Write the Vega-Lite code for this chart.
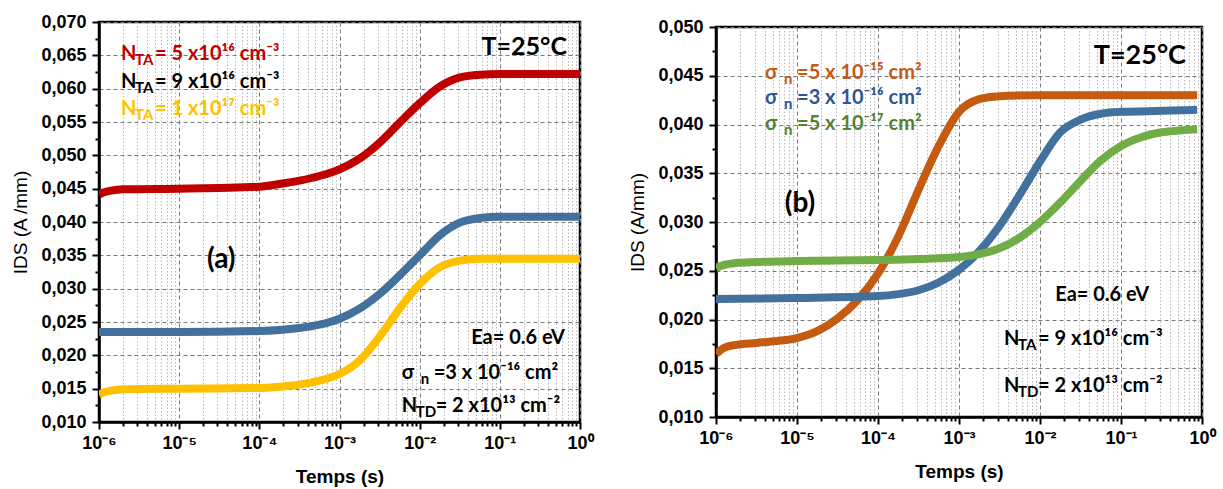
{
  "$schema": "https://vega.github.io/schema/vega-lite/v6.json",
  "background": "white",
  "padding": {"left": 10, "top": 11, "right": 5, "bottom": 5},
  "config": {
    "view": {"stroke": "black", "strokeWidth": 2.5, "fill": "white"}
  },
  "datasets": {
    "curves": [
      {"panel": "a", "series": "a1", "t": 1e-6, "I": 0.0441},
      {"panel": "a", "series": "a1", "t": 1.122e-6, "I": 0.0444},
      {"panel": "a", "series": "a1", "t": 1.413e-6, "I": 0.0447},
      {"panel": "a", "series": "a1", "t": 1.995e-6, "I": 0.0449},
      {"panel": "a", "series": "a1", "t": 1e-5, "I": 0.0450},
      {"panel": "a", "series": "a1", "t": 3.162e-5, "I": 0.0451},
      {"panel": "a", "series": "a1", "t": 1e-4, "I": 0.0453},
      {"panel": "a", "series": "a1", "t": 1.778e-4, "I": 0.0457},
      {"panel": "a", "series": "a1", "t": 3.162e-4, "I": 0.0462},
      {"panel": "a", "series": "a1", "t": 5.623e-4, "I": 0.0469},
      {"panel": "a", "series": "a1", "t": 1e-3, "I": 0.0479},
      {"panel": "a", "series": "a1", "t": 1.778e-3, "I": 0.0495},
      {"panel": "a", "series": "a1", "t": 3.162e-3, "I": 0.0519},
      {"panel": "a", "series": "a1", "t": 5.623e-3, "I": 0.0549},
      {"panel": "a", "series": "a1", "t": 1e-2, "I": 0.0578},
      {"panel": "a", "series": "a1", "t": 0.01778, "I": 0.0603},
      {"panel": "a", "series": "a1", "t": 0.03162, "I": 0.0617},
      {"panel": "a", "series": "a1", "t": 0.05623, "I": 0.0621},
      {"panel": "a", "series": "a1", "t": 0.1, "I": 0.0622},
      {"panel": "a", "series": "a1", "t": 1, "I": 0.0622},

      {"panel": "a", "series": "a2", "t": 1e-6, "I": 0.0235},
      {"panel": "a", "series": "a2", "t": 1e-5, "I": 0.0235},
      {"panel": "a", "series": "a2", "t": 1e-4, "I": 0.02365},
      {"panel": "a", "series": "a2", "t": 1.778e-4, "I": 0.0238},
      {"panel": "a", "series": "a2", "t": 3.162e-4, "I": 0.0241},
      {"panel": "a", "series": "a2", "t": 5.623e-4, "I": 0.0246},
      {"panel": "a", "series": "a2", "t": 1e-3, "I": 0.0255},
      {"panel": "a", "series": "a2", "t": 1.778e-3, "I": 0.0270},
      {"panel": "a", "series": "a2", "t": 3.162e-3, "I": 0.0292},
      {"panel": "a", "series": "a2", "t": 5.623e-3, "I": 0.0320},
      {"panel": "a", "series": "a2", "t": 1e-2, "I": 0.0350},
      {"panel": "a", "series": "a2", "t": 0.01778, "I": 0.0380},
      {"panel": "a", "series": "a2", "t": 0.03162, "I": 0.0399},
      {"panel": "a", "series": "a2", "t": 0.05623, "I": 0.0406},
      {"panel": "a", "series": "a2", "t": 0.1, "I": 0.0408},
      {"panel": "a", "series": "a2", "t": 1, "I": 0.0408},

      {"panel": "a", "series": "a3", "t": 1e-6, "I": 0.0141},
      {"panel": "a", "series": "a3", "t": 1.122e-6, "I": 0.0144},
      {"panel": "a", "series": "a3", "t": 1.413e-6, "I": 0.0147},
      {"panel": "a", "series": "a3", "t": 1.995e-6, "I": 0.0149},
      {"panel": "a", "series": "a3", "t": 1e-5, "I": 0.0150},
      {"panel": "a", "series": "a3", "t": 1e-4, "I": 0.0151},
      {"panel": "a", "series": "a3", "t": 1.778e-4, "I": 0.0153},
      {"panel": "a", "series": "a3", "t": 3.162e-4, "I": 0.0156},
      {"panel": "a", "series": "a3", "t": 5.623e-4, "I": 0.0162},
      {"panel": "a", "series": "a3", "t": 1e-3, "I": 0.0172},
      {"panel": "a", "series": "a3", "t": 1.778e-3, "I": 0.0192},
      {"panel": "a", "series": "a3", "t": 3.162e-3, "I": 0.0228},
      {"panel": "a", "series": "a3", "t": 5.623e-3, "I": 0.0270},
      {"panel": "a", "series": "a3", "t": 1e-2, "I": 0.0307},
      {"panel": "a", "series": "a3", "t": 0.01778, "I": 0.0332},
      {"panel": "a", "series": "a3", "t": 0.03162, "I": 0.0342},
      {"panel": "a", "series": "a3", "t": 0.05623, "I": 0.0345},
      {"panel": "a", "series": "a3", "t": 0.1, "I": 0.0345},
      {"panel": "a", "series": "a3", "t": 1, "I": 0.0345},

      {"panel": "b", "series": "b1", "t": 1e-6, "I": 0.0165},
      {"panel": "b", "series": "b1", "t": 1.259e-6, "I": 0.0171},
      {"panel": "b", "series": "b1", "t": 1.778e-6, "I": 0.0174},
      {"panel": "b", "series": "b1", "t": 3.162e-6, "I": 0.0176},
      {"panel": "b", "series": "b1", "t": 5.623e-6, "I": 0.0178},
      {"panel": "b", "series": "b1", "t": 1e-5, "I": 0.0181},
      {"panel": "b", "series": "b1", "t": 1.778e-5, "I": 0.0188},
      {"panel": "b", "series": "b1", "t": 3.162e-5, "I": 0.0201},
      {"panel": "b", "series": "b1", "t": 5.623e-5, "I": 0.0220},
      {"panel": "b", "series": "b1", "t": 1e-4, "I": 0.0247},
      {"panel": "b", "series": "b1", "t": 1.778e-4, "I": 0.0285},
      {"panel": "b", "series": "b1", "t": 3.162e-4, "I": 0.0333},
      {"panel": "b", "series": "b1", "t": 5.623e-4, "I": 0.0378},
      {"panel": "b", "series": "b1", "t": 1e-3, "I": 0.0413},
      {"panel": "b", "series": "b1", "t": 1.778e-3, "I": 0.0426},
      {"panel": "b", "series": "b1", "t": 3.162e-3, "I": 0.0429},
      {"panel": "b", "series": "b1", "t": 1e-2, "I": 0.0430},
      {"panel": "b", "series": "b1", "t": 0.871, "I": 0.0430},

      {"panel": "b", "series": "b2", "t": 1e-6, "I": 0.0221},
      {"panel": "b", "series": "b2", "t": 1e-5, "I": 0.0222},
      {"panel": "b", "series": "b2", "t": 1e-4, "I": 0.0224},
      {"panel": "b", "series": "b2", "t": 1.778e-4, "I": 0.0226},
      {"panel": "b", "series": "b2", "t": 3.162e-4, "I": 0.0230},
      {"panel": "b", "series": "b2", "t": 5.623e-4, "I": 0.0238},
      {"panel": "b", "series": "b2", "t": 1e-3, "I": 0.0251},
      {"panel": "b", "series": "b2", "t": 1.778e-3, "I": 0.0270},
      {"panel": "b", "series": "b2", "t": 3.162e-3, "I": 0.0296},
      {"panel": "b", "series": "b2", "t": 5.623e-3, "I": 0.0328},
      {"panel": "b", "series": "b2", "t": 1e-2, "I": 0.0362},
      {"panel": "b", "series": "b2", "t": 0.01778, "I": 0.0392},
      {"panel": "b", "series": "b2", "t": 0.03162, "I": 0.0405},
      {"panel": "b", "series": "b2", "t": 0.05623, "I": 0.0411},
      {"panel": "b", "series": "b2", "t": 0.1, "I": 0.0413},
      {"panel": "b", "series": "b2", "t": 0.3162, "I": 0.0414},
      {"panel": "b", "series": "b2", "t": 0.871, "I": 0.0415},

      {"panel": "b", "series": "b3", "t": 1e-6, "I": 0.0253},
      {"panel": "b", "series": "b3", "t": 1.259e-6, "I": 0.0256},
      {"panel": "b", "series": "b3", "t": 1.778e-6, "I": 0.0258},
      {"panel": "b", "series": "b3", "t": 3.162e-6, "I": 0.0259},
      {"panel": "b", "series": "b3", "t": 1e-5, "I": 0.0260},
      {"panel": "b", "series": "b3", "t": 1e-4, "I": 0.0261},
      {"panel": "b", "series": "b3", "t": 3.162e-4, "I": 0.0262},
      {"panel": "b", "series": "b3", "t": 1e-3, "I": 0.0264},
      {"panel": "b", "series": "b3", "t": 1.778e-3, "I": 0.0267},
      {"panel": "b", "series": "b3", "t": 3.162e-3, "I": 0.0273},
      {"panel": "b", "series": "b3", "t": 5.623e-3, "I": 0.0284},
      {"panel": "b", "series": "b3", "t": 1e-2, "I": 0.0300},
      {"panel": "b", "series": "b3", "t": 0.01778, "I": 0.0320},
      {"panel": "b", "series": "b3", "t": 0.03162, "I": 0.0342},
      {"panel": "b", "series": "b3", "t": 0.05623, "I": 0.0363},
      {"panel": "b", "series": "b3", "t": 0.1, "I": 0.0378},
      {"panel": "b", "series": "b3", "t": 0.1778, "I": 0.0387},
      {"panel": "b", "series": "b3", "t": 0.3162, "I": 0.0392},
      {"panel": "b", "series": "b3", "t": 0.5623, "I": 0.0394},
      {"panel": "b", "series": "b3", "t": 0.871, "I": 0.0395}
    ],
    "notes": [
      {"panel": "a", "kind": "N", "t": 1.88e-6, "I": 0.0643, "pre": "N", "sub": "TA", "post": "= 5 x10¹⁶ cm⁻³", "col": "#c00000"},
      {"panel": "a", "kind": "N", "t": 1.88e-6, "I": 0.0601, "pre": "N", "sub": "TA", "post": "= 9 x10¹⁶ cm⁻³", "col": "#000000"},
      {"panel": "a", "kind": "N", "t": 1.88e-6, "I": 0.05605, "pre": "N", "sub": "TA", "post": "= 1 x10¹⁷ cm⁻³", "col": "#ffc000"},
      {"panel": "a", "kind": "s", "t": 5.96e-3, "I": 0.01645, "pre": "σ", "sub": "n", "post": "=3 x 10⁻¹⁶ cm²", "col": "#000000"},
      {"panel": "a", "kind": "N", "t": 5.96e-3, "I": 0.0115, "pre": "N", "sub": "TD", "post": "= 2 x10¹³ cm⁻²", "col": "#000000"},
      {"panel": "b", "kind": "s", "t": 4.03e-6, "I": 0.04467, "pre": "σ", "sub": "n", "post": "=5 x 10⁻¹⁵ cm²", "col": "#c55a11"},
      {"panel": "b", "kind": "s", "t": 4.03e-6, "I": 0.0421, "pre": "σ", "sub": "n", "post": "=3 x 10⁻¹⁶ cm²", "col": "#2f5597"},
      {"panel": "b", "kind": "s", "t": 4.03e-6, "I": 0.03944, "pre": "σ", "sub": "n", "post": "=5 x 10⁻¹⁷ cm²", "col": "#548235"},
      {"panel": "b", "kind": "N", "t": 3.6e-3, "I": 0.01738, "pre": "N", "sub": "TA", "post": "= 9 x10¹⁶ cm⁻³", "col": "#000000"},
      {"panel": "b", "kind": "N", "t": 3.6e-3, "I": 0.01256, "pre": "N", "sub": "TD", "post": "= 2 x10¹³ cm⁻²", "col": "#000000"}
    ],
    "labels": [
      {"panel": "a", "kind": "T", "t": 0.688, "I": 0.06505, "text": "T=25°C"},
      {"panel": "a", "kind": "tag", "t": 3.35e-5, "I": 0.0331, "text": "(a)"},
      {"panel": "a", "kind": "ea", "t": 0.65, "I": 0.0217, "text": "Ea= 0.6 eV"},
      {"panel": "b", "kind": "T", "t": 0.634, "I": 0.0462, "text": "T=25°C"},
      {"panel": "b", "kind": "tag", "t": 1.09e-5, "I": 0.0310, "text": "(b)"},
      {"panel": "b", "kind": "ea", "t": 0.222, "I": 0.0219, "text": "Ea= 0.6 eV"}
    ]
  },
  "hconcat": [
    {
      "width": 481,
      "height": 400,
      "encoding": {
        "x": {
          "field": "t", "type": "quantitative",
          "scale": {"type": "log", "domain": [1e-6, 1], "nice": false},
          "axis": {
            "title": "Temps (s)",
            "values": [1e-6,2e-6,3e-6,4e-6,5e-6,6e-6,7e-6,8e-6,9e-6,1e-5,2e-5,3e-5,4e-5,5e-5,6e-5,7e-5,8e-5,9e-5,1e-4,2e-4,3e-4,4e-4,5e-4,6e-4,7e-4,8e-4,9e-4,1e-3,2e-3,3e-3,4e-3,5e-3,6e-3,7e-3,8e-3,9e-3,1e-2,2e-2,3e-2,4e-2,5e-2,6e-2,7e-2,8e-2,9e-2,0.1,0.2,0.3,0.4,0.5,0.6,0.7,0.8,0.9,1],
            "labelExpr": "abs(log(datum.value)/LN10 - round(log(datum.value)/LN10)) < 0.001 ? '10' + ['⁻⁶','⁻⁵','⁻⁴','⁻³','⁻²','⁻¹','⁰'][round(log(datum.value)/LN10)+6] : ''",
            "labelFont": "Liberation Sans", "labelFontWeight": "bold", "labelFontSize": 18, "labelColor": "black",
            "labelPadding": 5, "labelOverlap": false, "labelFlush": false, "labelBound": false,
            "tickSize": {"condition": {"test": "abs(log(datum.value)/LN10 - round(log(datum.value)/LN10)) < 0.001", "value": 7}, "value": 4},
            "tickWidth": 2, "tickColor": "black",
            "domainColor": "black", "domainWidth": 2.5,
            "grid": true,
            "gridColor": {"condition": {"test": "abs(log(datum.value)/LN10 - round(log(datum.value)/LN10)) < 0.001", "value": "#7a7a7a"}, "value": "#b8b8b8"},
            "gridDash": {"condition": {"test": "abs(log(datum.value)/LN10 - round(log(datum.value)/LN10)) < 0.001", "value": [4, 3]}, "value": [1.5, 2]},
            "gridWidth": 1,
            "titleFont": "Liberation Sans", "titleFontWeight": "bold", "titleFontSize": 19, "titleColor": "black", "titlePadding": 15
          }
        },
        "y": {
          "field": "I", "type": "quantitative",
          "scale": {"domain": [0.01, 0.07], "nice": false, "zero": false},
          "axis": {
            "title": "IDS (A /mm)",
            "values": [0.01,0.0125,0.015,0.0175,0.02,0.0225,0.025,0.0275,0.03,0.0325,0.035,0.0375,0.04,0.0425,0.045,0.0475,0.05,0.0525,0.055,0.0575,0.06,0.0625,0.065,0.0675,0.07],
            "labelExpr": "abs(datum.value*200 - round(datum.value*200)) < 0.01 ? replace(format(datum.value, '.3f'), '.', ',') : ''",
            "labelFont": "Liberation Sans", "labelFontWeight": "bold", "labelFontSize": 18, "labelColor": "black",
            "labelPadding": 6, "labelOverlap": false, "labelBound": false, "labelFlush": false,
            "tickSize": {"condition": {"test": "abs(datum.value*200 - round(datum.value*200)) < 0.01", "value": 7}, "value": 4},
            "tickWidth": 2, "tickColor": "black",
            "domainColor": "black", "domainWidth": 2.5,
            "grid": true,
            "gridOpacity": {"condition": {"test": "abs(datum.value*200 - round(datum.value*200)) < 0.01", "value": 1}, "value": 0},
            "gridColor": "#7a7a7a", "gridDash": [4, 3], "gridWidth": 1,
            "titleFont": "Liberation Sans", "titleFontWeight": "normal", "titleFontSize": 19, "titleColor": "black", "titlePadding": 10
          }
        }
      },
      "layer": [
        {
          "data": {"name": "curves"},
          "transform": [{"filter": "datum.panel === 'a'"}],
          "mark": {"type": "line", "strokeWidth": 8, "interpolate": "monotone", "clip": true},
          "encoding": {
            "color": {"field": "series", "type": "nominal", "legend": null,
              "scale": {"domain": ["a1","a2","a3","b1","b2","b3"], "range": ["#c00000","#41719c","#ffc000","#c55a11","#41719c","#70ad47"]}}
          }
        },
        {
          "data": {"name": "notes"},
          "transform": [{"filter": "datum.panel === 'a'"}],
          "mark": {"type": "text", "align": "left", "baseline": "alphabetic", "font": "Lato", "fontWeight": "bold", "fontSize": 20},
          "encoding": {"text": {"field": "pre", "type": "nominal"}, "fill": {"field": "col", "type": "nominal", "scale": null}}
        },
        {
          "data": {"name": "notes"},
          "transform": [{"filter": "datum.panel === 'a' && datum.kind === 'N'"}],
          "mark": {"type": "text", "align": "left", "baseline": "alphabetic", "font": "Lato", "fontWeight": "bold", "fontSize": 15, "dx": 14, "dy": 5},
          "encoding": {"text": {"field": "sub", "type": "nominal"}, "fill": {"field": "col", "type": "nominal", "scale": null}}
        },
        {
          "data": {"name": "notes"},
          "transform": [{"filter": "datum.panel === 'a' && datum.kind === 's'"}],
          "mark": {"type": "text", "align": "left", "baseline": "alphabetic", "font": "Lato", "fontWeight": "bold", "fontSize": 15, "dx": 19, "dy": 5},
          "encoding": {"text": {"field": "sub", "type": "nominal"}, "fill": {"field": "col", "type": "nominal", "scale": null}}
        },
        {
          "data": {"name": "notes"},
          "transform": [{"filter": "datum.panel === 'a' && datum.kind === 'N'"}],
          "mark": {"type": "text", "align": "left", "baseline": "alphabetic", "font": "Lato", "fontWeight": "bold", "fontSize": 20, "dx": 34},
          "encoding": {"text": {"field": "post", "type": "nominal"}, "fill": {"field": "col", "type": "nominal", "scale": null}}
        },
        {
          "data": {"name": "notes"},
          "transform": [{"filter": "datum.panel === 'a' && datum.kind === 's'"}],
          "mark": {"type": "text", "align": "left", "baseline": "alphabetic", "font": "Lato", "fontWeight": "bold", "fontSize": 20, "dx": 32},
          "encoding": {"text": {"field": "post", "type": "nominal"}, "fill": {"field": "col", "type": "nominal", "scale": null}}
        },
        {
          "data": {"name": "labels"},
          "transform": [{"filter": "datum.panel === 'a' && datum.kind === 'T'"}],
          "mark": {"type": "text", "align": "right", "baseline": "alphabetic", "font": "Lato", "fontWeight": "bold", "fontSize": 25, "color": "black"},
          "encoding": {"text": {"field": "text", "type": "nominal"}}
        },
        {
          "data": {"name": "labels"},
          "transform": [{"filter": "datum.panel === 'a' && datum.kind === 'tag'"}],
          "mark": {"type": "text", "align": "center", "baseline": "alphabetic", "font": "Lato", "fontWeight": "bold", "fontSize": 28, "color": "black"},
          "encoding": {"text": {"field": "text", "type": "nominal"}}
        },
        {
          "data": {"name": "labels"},
          "transform": [{"filter": "datum.panel === 'a' && datum.kind === 'ea'"}],
          "mark": {"type": "text", "align": "right", "baseline": "alphabetic", "font": "Lato", "fontWeight": "bold", "fontSize": 20, "color": "black"},
          "encoding": {"text": {"field": "text", "type": "nominal"}}
        }
      ]
    },
    {
      "width": 486,
      "height": 390,
      "encoding": {
        "x": {
          "field": "t", "type": "quantitative",
          "scale": {"type": "log", "domain": [1e-6, 1], "nice": false},
          "axis": {
            "title": "Temps (s)",
            "values": [1e-6,2e-6,3e-6,4e-6,5e-6,6e-6,7e-6,8e-6,9e-6,1e-5,2e-5,3e-5,4e-5,5e-5,6e-5,7e-5,8e-5,9e-5,1e-4,2e-4,3e-4,4e-4,5e-4,6e-4,7e-4,8e-4,9e-4,1e-3,2e-3,3e-3,4e-3,5e-3,6e-3,7e-3,8e-3,9e-3,1e-2,2e-2,3e-2,4e-2,5e-2,6e-2,7e-2,8e-2,9e-2,0.1,0.2,0.3,0.4,0.5,0.6,0.7,0.8,0.9,1],
            "labelExpr": "abs(log(datum.value)/LN10 - round(log(datum.value)/LN10)) < 0.001 ? '10' + ['⁻⁶','⁻⁵','⁻⁴','⁻³','⁻²','⁻¹','⁰'][round(log(datum.value)/LN10)+6] : ''",
            "labelFont": "Liberation Sans", "labelFontWeight": "bold", "labelFontSize": 18, "labelColor": "black",
            "labelPadding": 5, "labelOverlap": false, "labelFlush": false, "labelBound": false,
            "tickSize": {"condition": {"test": "abs(log(datum.value)/LN10 - round(log(datum.value)/LN10)) < 0.001", "value": 7}, "value": 4},
            "tickWidth": 2, "tickColor": "black",
            "domainColor": "black", "domainWidth": 2.5,
            "grid": true,
            "gridColor": {"condition": {"test": "abs(log(datum.value)/LN10 - round(log(datum.value)/LN10)) < 0.001", "value": "#7a7a7a"}, "value": "#b8b8b8"},
            "gridDash": {"condition": {"test": "abs(log(datum.value)/LN10 - round(log(datum.value)/LN10)) < 0.001", "value": [4, 3]}, "value": [1.5, 2]},
            "gridWidth": 1,
            "titleFont": "Liberation Sans", "titleFontWeight": "bold", "titleFontSize": 19, "titleColor": "black", "titlePadding": 15
          }
        },
        "y": {
          "field": "I", "type": "quantitative",
          "scale": {"domain": [0.01, 0.05], "nice": false, "zero": false},
          "axis": {
            "title": "IDS (A/mm)",
            "values": [0.01,0.0125,0.015,0.0175,0.02,0.0225,0.025,0.0275,0.03,0.0325,0.035,0.0375,0.04,0.0425,0.045,0.0475,0.05],
            "labelExpr": "abs(datum.value*200 - round(datum.value*200)) < 0.01 ? replace(format(datum.value, '.3f'), '.', ',') : ''",
            "labelFont": "Liberation Sans", "labelFontWeight": "bold", "labelFontSize": 18, "labelColor": "black",
            "labelPadding": 6, "labelOverlap": false, "labelBound": false, "labelFlush": false,
            "tickSize": {"condition": {"test": "abs(datum.value*200 - round(datum.value*200)) < 0.01", "value": 7}, "value": 4},
            "tickWidth": 2, "tickColor": "black",
            "domainColor": "black", "domainWidth": 2.5,
            "grid": true,
            "gridOpacity": {"condition": {"test": "abs(datum.value*200 - round(datum.value*200)) < 0.01", "value": 1}, "value": 0},
            "gridColor": "#7a7a7a", "gridDash": [4, 3], "gridWidth": 1,
            "titleFont": "Liberation Sans", "titleFontWeight": "normal", "titleFontSize": 19, "titleColor": "black", "titlePadding": 10
          }
        }
      },
      "layer": [
        {
          "data": {"name": "curves"},
          "transform": [{"filter": "datum.panel === 'b'"}],
          "mark": {"type": "line", "strokeWidth": 8, "interpolate": "monotone", "clip": true},
          "encoding": {
            "color": {"field": "series", "type": "nominal", "legend": null,
              "scale": {"domain": ["a1","a2","a3","b1","b2","b3"], "range": ["#c00000","#41719c","#ffc000","#c55a11","#41719c","#70ad47"]}}
          }
        },
        {
          "data": {"name": "notes"},
          "transform": [{"filter": "datum.panel === 'b'"}],
          "mark": {"type": "text", "align": "left", "baseline": "alphabetic", "font": "Lato", "fontWeight": "bold", "fontSize": 20},
          "encoding": {"text": {"field": "pre", "type": "nominal"}, "fill": {"field": "col", "type": "nominal", "scale": null}}
        },
        {
          "data": {"name": "notes"},
          "transform": [{"filter": "datum.panel === 'b' && datum.kind === 'N'"}],
          "mark": {"type": "text", "align": "left", "baseline": "alphabetic", "font": "Lato", "fontWeight": "bold", "fontSize": 15, "dx": 14, "dy": 5},
          "encoding": {"text": {"field": "sub", "type": "nominal"}, "fill": {"field": "col", "type": "nominal", "scale": null}}
        },
        {
          "data": {"name": "notes"},
          "transform": [{"filter": "datum.panel === 'b' && datum.kind === 's'"}],
          "mark": {"type": "text", "align": "left", "baseline": "alphabetic", "font": "Lato", "fontWeight": "bold", "fontSize": 15, "dx": 19, "dy": 5},
          "encoding": {"text": {"field": "sub", "type": "nominal"}, "fill": {"field": "col", "type": "nominal", "scale": null}}
        },
        {
          "data": {"name": "notes"},
          "transform": [{"filter": "datum.panel === 'b' && datum.kind === 'N'"}],
          "mark": {"type": "text", "align": "left", "baseline": "alphabetic", "font": "Lato", "fontWeight": "bold", "fontSize": 20, "dx": 34},
          "encoding": {"text": {"field": "post", "type": "nominal"}, "fill": {"field": "col", "type": "nominal", "scale": null}}
        },
        {
          "data": {"name": "notes"},
          "transform": [{"filter": "datum.panel === 'b' && datum.kind === 's'"}],
          "mark": {"type": "text", "align": "left", "baseline": "alphabetic", "font": "Lato", "fontWeight": "bold", "fontSize": 20, "dx": 32},
          "encoding": {"text": {"field": "post", "type": "nominal"}, "fill": {"field": "col", "type": "nominal", "scale": null}}
        },
        {
          "data": {"name": "labels"},
          "transform": [{"filter": "datum.panel === 'b' && datum.kind === 'T'"}],
          "mark": {"type": "text", "align": "right", "baseline": "alphabetic", "font": "Lato", "fontWeight": "bold", "fontSize": 27, "color": "black"},
          "encoding": {"text": {"field": "text", "type": "nominal"}}
        },
        {
          "data": {"name": "labels"},
          "transform": [{"filter": "datum.panel === 'b' && datum.kind === 'tag'"}],
          "mark": {"type": "text", "align": "center", "baseline": "alphabetic", "font": "Lato", "fontWeight": "bold", "fontSize": 28, "color": "black"},
          "encoding": {"text": {"field": "text", "type": "nominal"}}
        },
        {
          "data": {"name": "labels"},
          "transform": [{"filter": "datum.panel === 'b' && datum.kind === 'ea'"}],
          "mark": {"type": "text", "align": "right", "baseline": "alphabetic", "font": "Lato", "fontWeight": "bold", "fontSize": 20, "color": "black"},
          "encoding": {"text": {"field": "text", "type": "nominal"}}
        }
      ]
    }
  ],
  "spacing": 136,
  "bounds": "flush",
  "center": true
}
